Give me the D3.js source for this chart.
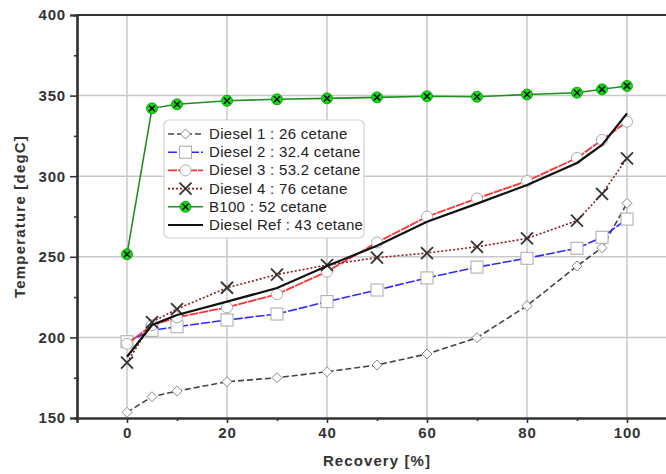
<!DOCTYPE html>
<html>
<head>
<meta charset="utf-8">
<script src="https://cdn.jsdelivr.net/npm/d3@7"></script>
<style>
  html, body { margin: 0; padding: 0; background: #fff; }
  svg { display: block; font-family: "Liberation Sans", Arial, sans-serif; }
</style>
</head>
<body>
<svg id="chart" width="666" height="474"></svg>
<script>
// Distillation curves: temperature vs. recovered volume
const recovery = [0, 5, 10, 20, 30, 40, 50, 60, 70, 80, 90, 95, 100];

const diesel1 = [153.5, 163.2, 166.7, 172.5, 175.0, 178.7, 182.9, 189.7, 199.8, 219.6, 244.3, 255.6, 283.2];
const diesel2 = [197.3, 204.4, 206.6, 210.8, 214.5, 222.2, 229.4, 236.9, 243.6, 249.1, 255.3, 262.1, 273.4];
const diesel3 = [196.0, 207.5, 212.5, 218.6, 226.8, 240.8, 258.9, 274.9, 286.2, 297.0, 311.3, 322.5, 333.8];
const diesel4 = [184.3, 209.5, 217.6, 230.8, 239.0, 244.9, 249.5, 252.3, 256.2, 261.4, 272.4, 289.0, 311.1];
const b100    = [251.6, 342.1, 344.6, 346.8, 347.7, 348.3, 348.9, 349.6, 349.3, 350.7, 351.8, 353.9, 356.0];
const dieselRef = [188.0, 207.7, 213.9, 222.2, 230.6, 244.3, 256.8, 271.8, 283.0, 294.5, 308.2, 319.4, 339.0];

const seriesNames = [
  "Diesel 1 : 26 cetane",
  "Diesel 2 : 32.4 cetane",
  "Diesel 3 : 53.2 cetane",
  "Diesel 4 : 76 cetane",
  "B100 : 52 cetane",
  "Diesel Ref : 43 cetane"
];

const xTicks = [0, 20, 40, 60, 80, 100];
const yTicks = [150, 200, 250, 300, 350, 400];

const xTitle = "Recovery [%]";
const yTitle = "Temperature [degC]";

// Line / marker styling per series
const styles = [
  { values: diesel1, color: "#444", width: 1.6, dash: "6,3", marker: "diamond" },
  { values: diesel2, color: "#2b2bff", width: 1.6, dash: "9,2", marker: "square" },
  { values: diesel3, color: "#ff3030", width: 1.8, dash: "9,1", marker: "circle" },
  { values: diesel4, color: "#8b1a1a", width: 1.6, dash: "2,2", marker: "cross" },
  { values: b100,    color: "#1f8f1f", width: 1.6, dash: null,  marker: "green" },
  { values: dieselRef, color: "#111", width: 2.2, dash: null, marker: null }
];

const svg = d3.select("#chart");
const plot = { left: 77, right: 667, top: 15, bottom: 418 };

const x = d3.scaleLinear().domain([-10, 108]).range([plot.left, plot.right]);
const y = d3.scaleLinear().domain([150, 400]).range([plot.bottom, plot.top]);

// Grid
const grid = svg.append("g").attr("stroke", "#c8c8c8").attr("stroke-width", 1.5);
grid.selectAll("line.vx").data(xTicks).join("line")
  .attr("x1", d => x(d)).attr("x2", d => x(d))
  .attr("y1", plot.top).attr("y2", plot.bottom);
grid.selectAll("line.hy").data(yTicks.filter(v => v > 150 && v < 400)).join("line")
  .attr("x1", plot.left).attr("x2", plot.right)
  .attr("y1", d => y(d)).attr("y2", d => y(d));

// Axes
const axisColor = "#333";
const yAxis = svg.append("g").attr("transform", `translate(${plot.left},0)`)
  .call(d3.axisLeft(y).tickValues(yTicks).tickSize(7).tickPadding(4));
const yMinor = svg.append("g").attr("transform", `translate(${plot.left},0)`)
  .call(d3.axisLeft(y).tickValues(d3.range(175, 400, 50)).tickSize(3).tickFormat(""));
const xAxis = svg.append("g").attr("transform", `translate(0,${plot.bottom})`)
  .call(d3.axisBottom(x).tickValues(xTicks).tickSize(5).tickPadding(4));
const xMinor = svg.append("g").attr("transform", `translate(0,${plot.bottom})`)
  .call(d3.axisBottom(x).tickValues(d3.range(10, 100, 20)).tickSize(3).tickFormat(""));

[yAxis, yMinor, xAxis, xMinor].forEach(g => {
  g.select(".domain").attr("stroke", axisColor).attr("stroke-width", 2.2);
  g.selectAll(".tick line").attr("stroke", axisColor).attr("stroke-width", 1.6);
  g.selectAll(".tick text")
    .attr("fill", "#333").attr("font-size", 15).attr("font-weight", "bold")
    .attr("letter-spacing", 0.8)
    .attr("font-family", "'Liberation Sans', Arial, sans-serif");
});

// Top frame line
svg.append("line")
  .attr("x1", plot.left).attr("x2", plot.right).attr("y1", plot.top).attr("y2", plot.top)
  .attr("stroke", axisColor).attr("stroke-width", 2.2);

// Axis titles
svg.append("text")
  .attr("x", (x(0) + x(100)) / 2).attr("y", 466)
  .attr("text-anchor", "middle").attr("font-size", 15).attr("font-weight", "bold")
  .attr("letter-spacing", 1.1)
  .attr("fill", "#333").text(xTitle);
svg.append("text")
  .attr("transform", `translate(25,${(plot.top + plot.bottom) / 2}) rotate(-90)`)
  .attr("text-anchor", "middle").attr("font-size", 15).attr("font-weight", "bold")
  .attr("letter-spacing", 1.2)
  .attr("fill", "#333").text(yTitle);

// Marker drawing
function drawMarker(g, type, cx, cy) {
  if (type === "diamond") {
    g.append("path").attr("d", `M${cx},${cy - 5}L${cx + 5},${cy}L${cx},${cy + 5}L${cx - 5},${cy}Z`)
      .attr("fill", "#fff").attr("stroke", "#888").attr("stroke-width", 1);
  } else if (type === "square") {
    g.append("rect").attr("x", cx - 6).attr("y", cy - 6).attr("width", 12).attr("height", 12)
      .attr("fill", "#fff").attr("stroke", "#aaa").attr("stroke-width", 1);
  } else if (type === "circle") {
    g.append("circle").attr("cx", cx).attr("cy", cy).attr("r", 5.5)
      .attr("fill", "#fff").attr("stroke", "#aaa").attr("stroke-width", 1);
  } else if (type === "cross") {
    g.append("path").attr("d", `M${cx - 6},${cy - 6}L${cx + 6},${cy + 6}M${cx - 6},${cy + 6}L${cx + 6},${cy - 6}`)
      .attr("stroke", "#333").attr("stroke-width", 1.8);
  } else if (type === "green") {
    g.append("circle").attr("cx", cx).attr("cy", cy).attr("r", 5.5)
      .attr("fill", "#10e010").attr("stroke", "#0a8a0a").attr("stroke-width", 0.8);
    g.append("path").attr("d", `M${cx - 3},${cy - 3}L${cx + 3},${cy + 3}M${cx - 3},${cy + 3}L${cx + 3},${cy - 3}`)
      .attr("stroke", "#111").attr("stroke-width", 1.6);
  }
}

const line = d3.line().x(d => x(d[0])).y(d => y(d[1]));

styles.forEach(s => {
  const pts = recovery.map((r, i) => [r, s.values[i]]);
  const g = svg.append("g");
  g.append("path").datum(pts).attr("d", line)
    .attr("fill", "none").attr("stroke", s.color).attr("stroke-width", s.width)
    .attr("stroke-dasharray", s.dash);
  if (s.marker) pts.forEach(p => drawMarker(g, s.marker, x(p[0]), y(p[1])));
});

// Legend
const lg = svg.append("g").attr("transform", "translate(164,120)");
lg.append("rect").attr("x", 0).attr("y", 0).attr("width", 200).attr("height", 118)
  .attr("rx", 5).attr("fill", "#fff").attr("stroke", "#d0d0d0").attr("stroke-width", 1.2);
seriesNames.forEach((name, i) => {
  const s = styles[i];
  const cy = 14 + i * 18.2;
  lg.append("line").attr("x1", 4).attr("x2", 39).attr("y1", cy).attr("y2", cy)
    .attr("stroke", s.color).attr("stroke-width", s.width)
    .attr("stroke-dasharray", s.dash);
  if (s.marker) drawMarker(lg, s.marker, 21.5, cy);
  lg.append("text").attr("x", 45).attr("y", cy + 5)
    .attr("font-size", 15).attr("letter-spacing", 0.3).attr("fill", "#222").text(name);
});
</script>
</body>
</html>
